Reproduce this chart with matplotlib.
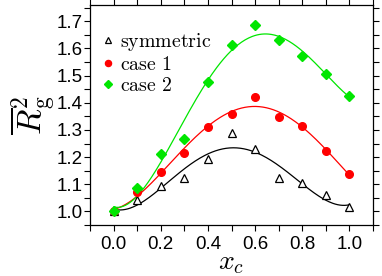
import numpy as np
import matplotlib
matplotlib.use("Agg")
import matplotlib.pyplot as plt
from matplotlib.ticker import MultipleLocator, FormatStrFormatter

plt.rcParams['mathtext.fontset'] = 'cm'

xc = [0.0, 0.1, 0.2, 0.3, 0.4, 0.5, 0.6, 0.7, 0.8, 0.9, 1.0]
symmetric = [1.0, 1.043, 1.092, 1.123, 1.193, 1.288, 1.23, 1.123, 1.104, 1.06, 1.018]
case1 = [1.0, 1.071, 1.145, 1.215, 1.311, 1.36, 1.423, 1.346, 1.313, 1.223, 1.137]
case2 = [1.0, 1.086, 1.212, 1.267, 1.478, 1.613, 1.685, 1.63, 1.574, 1.506, 1.426]
labels = ['symmetric', 'case 1', 'case 2']

fig = plt.figure(figsize=(3.82, 2.76), dpi=100)
ax = fig.add_axes([90/382, 1-225/276, (373-90)/382, (225-5)/276])

xs = np.linspace(0, 1, 200)
green = '#00e600'
for y, c in [(symmetric, 'black'), (case1, 'red'), (case2, green)]:
    p = np.polyfit(xc, y, 4)
    ax.plot(xs, np.polyval(p, xs), color=c, lw=0.9, zorder=2)

ax.plot(xc, symmetric, ls='none', marker='^', ms=6, mfc='white', mec='black', mew=0.9,
        label=labels[0], zorder=3)
ax.plot(xc, case1, ls='none', marker='o', ms=5.5, mfc='red', mec='red', label=labels[1], zorder=3)
ax.plot(xc, case2, ls='none', marker='D', ms=5, mfc=green, mec=green, label=labels[2], zorder=3)

ax.set_xlim(-0.1, 1.1)
ax.set_ylim(0.95, 1.76)
ax.xaxis.set_major_locator(MultipleLocator(0.2))
ax.xaxis.set_minor_locator(MultipleLocator(0.1))
ax.yaxis.set_major_locator(MultipleLocator(0.1))
ax.yaxis.set_minor_locator(MultipleLocator(0.05))
ax.xaxis.set_major_formatter(FormatStrFormatter('%.1f'))
ax.yaxis.set_major_formatter(FormatStrFormatter('%.1f'))
ax.tick_params(which='both', direction='out', length=4, width=0.8, top=True, right=True,
               labelsize=13.5, pad=1)
ax.tick_params(axis='x', which='major', pad=4)
for lab in ax.get_xticklabels() + ax.get_yticklabels():
    lab.set_family('Liberation Sans')
for s in ax.spines.values():
    s.set_linewidth(0.9)

ax.set_xlabel(r'$x_c$', fontsize=20, labelpad=-4)
ax.set_ylabel(r'$\overline{R}_{\rm g}^{2}$', fontsize=24, labelpad=-1)

leg = ax.legend(loc='upper left', frameon=False, prop={'size': 14.3},
                handlelength=0.6, handletextpad=0.3, borderaxespad=0.0, labelspacing=0.1,
                markerscale=0.8, bbox_to_anchor=(0.015, 0.92))
for t in leg.get_texts():
    t.set_text(r'$\mathrm{' + t.get_text().replace(' ', r'\ ') + '}$')

fig.savefig('out.png', dpi=100)
